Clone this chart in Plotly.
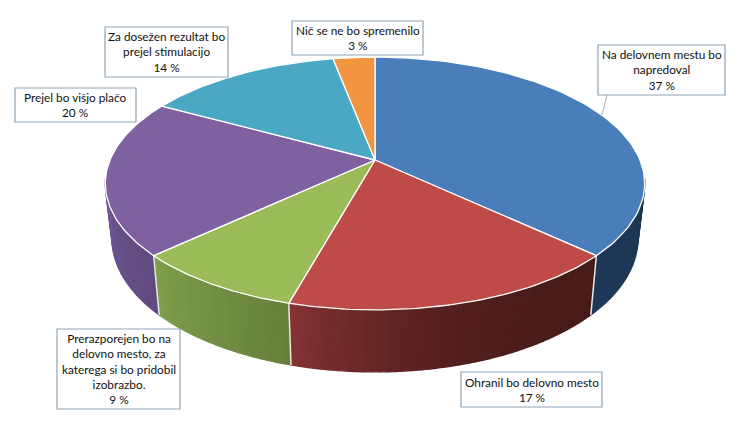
import numpy as np
import plotly.graph_objects as go

categories = ["Na delovnem mestu bo<br>napredoval", "Ohranil bo delovno mesto",
              "Prerazporejen bo na<br>delovno mesto, za<br>katerega si bo pridobil<br>izobrazbo.",
              "Prejel bo višjo plačo", "Za dosežen rezultat bo<br>prejel stimulacijo",
              "Nič se ne bo spremenilo"]
values = [37, 17.3, 8.7, 20, 14, 3]
labels = [37, 17, 9, 20, 14, 3]
top_colors = ["#4A7EBB", "#BE4B48", "#9BBB59", "#7F60A0", "#4AA8C4", "#F29540"]
wall_start = ["#1E3654", "#481B19", "#66803A", "#5F4A7E", "#2F6F82", "#A8612A"]
wall_end = ["#1F3857", "#863234", "#7F9F4C", "#715894", "#2F6F82", "#A8612A"]
wall_gamma = [1, 2.5, 1, 1, 1, 1]
boxes = [(598, 725, 45, 95), (461, 602, 372, 407), (57, 180, 329, 409),
         (15, 136, 88, 122), (105, 228, 27, 77), (292, 423, 21, 55)]

CX, CY, A, B, K = 375.0, 160.0, 265.0, 122.0, 0.186


def top_pt(th):
    c, s = np.sin(th), -np.cos(th)
    w = 1 - K * s
    return CX + A * c / w, CY + B * s / w


def bottom_pt(th):
    x, y = top_pt(th)
    s = -np.cos(th)
    return CX + (x - CX) * 0.975, y + 53 + 9 * s


def hex2rgb(h):
    return np.array([int(h[i:i + 2], 16) for i in (1, 3, 5)], float)


def mix(a, b, t):
    v = hex2rgb(a) * (1 - t) + hex2rgb(b) * t
    return "rgb(%d,%d,%d)" % tuple(v)


fig = go.Figure()
fracs = np.cumsum([0] + values) / sum(values) * 2 * np.pi
S_MIN = 0.12

# walls
for i in range(len(values)):
    t0, t1 = fracs[i], fracs[i + 1]
    ths = np.linspace(t0, t1, max(2, int((t1 - t0) * 40)))
    ths = ths[-np.cos(ths) >= S_MIN]
    if len(ths) < 2:
        continue
    n = len(ths) - 1
    for j in range(n):
        seg = np.linspace(ths[j], ths[j + 1], 3)
        xt, yt = top_pt(seg)
        xb, yb = bottom_pt(seg[::-1])
        col = mix(wall_start[i], wall_end[i], ((j + 0.5) / n) ** wall_gamma[i])
        fig.add_trace(go.Scatter(x=np.r_[xt, xb], y=np.r_[yt, yb], fill="toself", mode="lines",
                                 fillcolor=col, line=dict(color=col, width=1.4),
                                 hoverinfo="skip", showlegend=False))

# white separators on the wall
for th in fracs[:-1]:
    if -np.cos(th) >= S_MIN:
        xt, yt = top_pt(th)
        xb, yb = bottom_pt(th)
        fig.add_trace(go.Scatter(x=[xt, xb], y=[yt, yb], mode="lines",
                                 line=dict(color="#E8E8E8", width=1.5),
                                 hoverinfo="skip", showlegend=False))

# top faces
for i in range(len(values)):
    ths = np.linspace(fracs[i], fracs[i + 1], 80)
    xs, ys = top_pt(ths)
    fig.add_trace(go.Scatter(x=np.r_[CX, xs, CX], y=np.r_[CY, ys, CY], fill="toself", mode="lines",
                             fillcolor=top_colors[i], line=dict(color="white", width=1.3),
                             hoverinfo="skip", showlegend=False))

shapes = [dict(type="line", x0=607, y0=95, x1=602, y1=115,
               line=dict(color="#B8ABA2", width=1))]
annotations = []
for cat, v, (x0, x1, y0, y1) in zip(categories, labels, boxes):
    shapes.append(dict(type="rect", x0=x0, x1=x1, y0=y0, y1=y1, fillcolor="white",
                       line=dict(color="#8FA5B5", width=1.2)))
    annotations.append(dict(x=(x0 + x1) / 2, y=(y0 + y1) / 2, text=f"{cat}<br>{v} %", showarrow=False,
                            xanchor="center", yanchor="middle", align="center",
                            font=dict(family="Lato", size=11.8, color="#111111")))

fig.update_layout(width=736, height=432, margin=dict(l=0, r=0, t=0, b=0),
                  paper_bgcolor="white", plot_bgcolor="white", showlegend=False,
                  shapes=shapes, annotations=annotations,
                  xaxis=dict(range=[0, 736], visible=False, fixedrange=True),
                  yaxis=dict(range=[432, 0], visible=False, fixedrange=True))
fig.write_html("out.html", config=dict(displayModeBar=False),
               post_script="document.body.style.margin='0';")
